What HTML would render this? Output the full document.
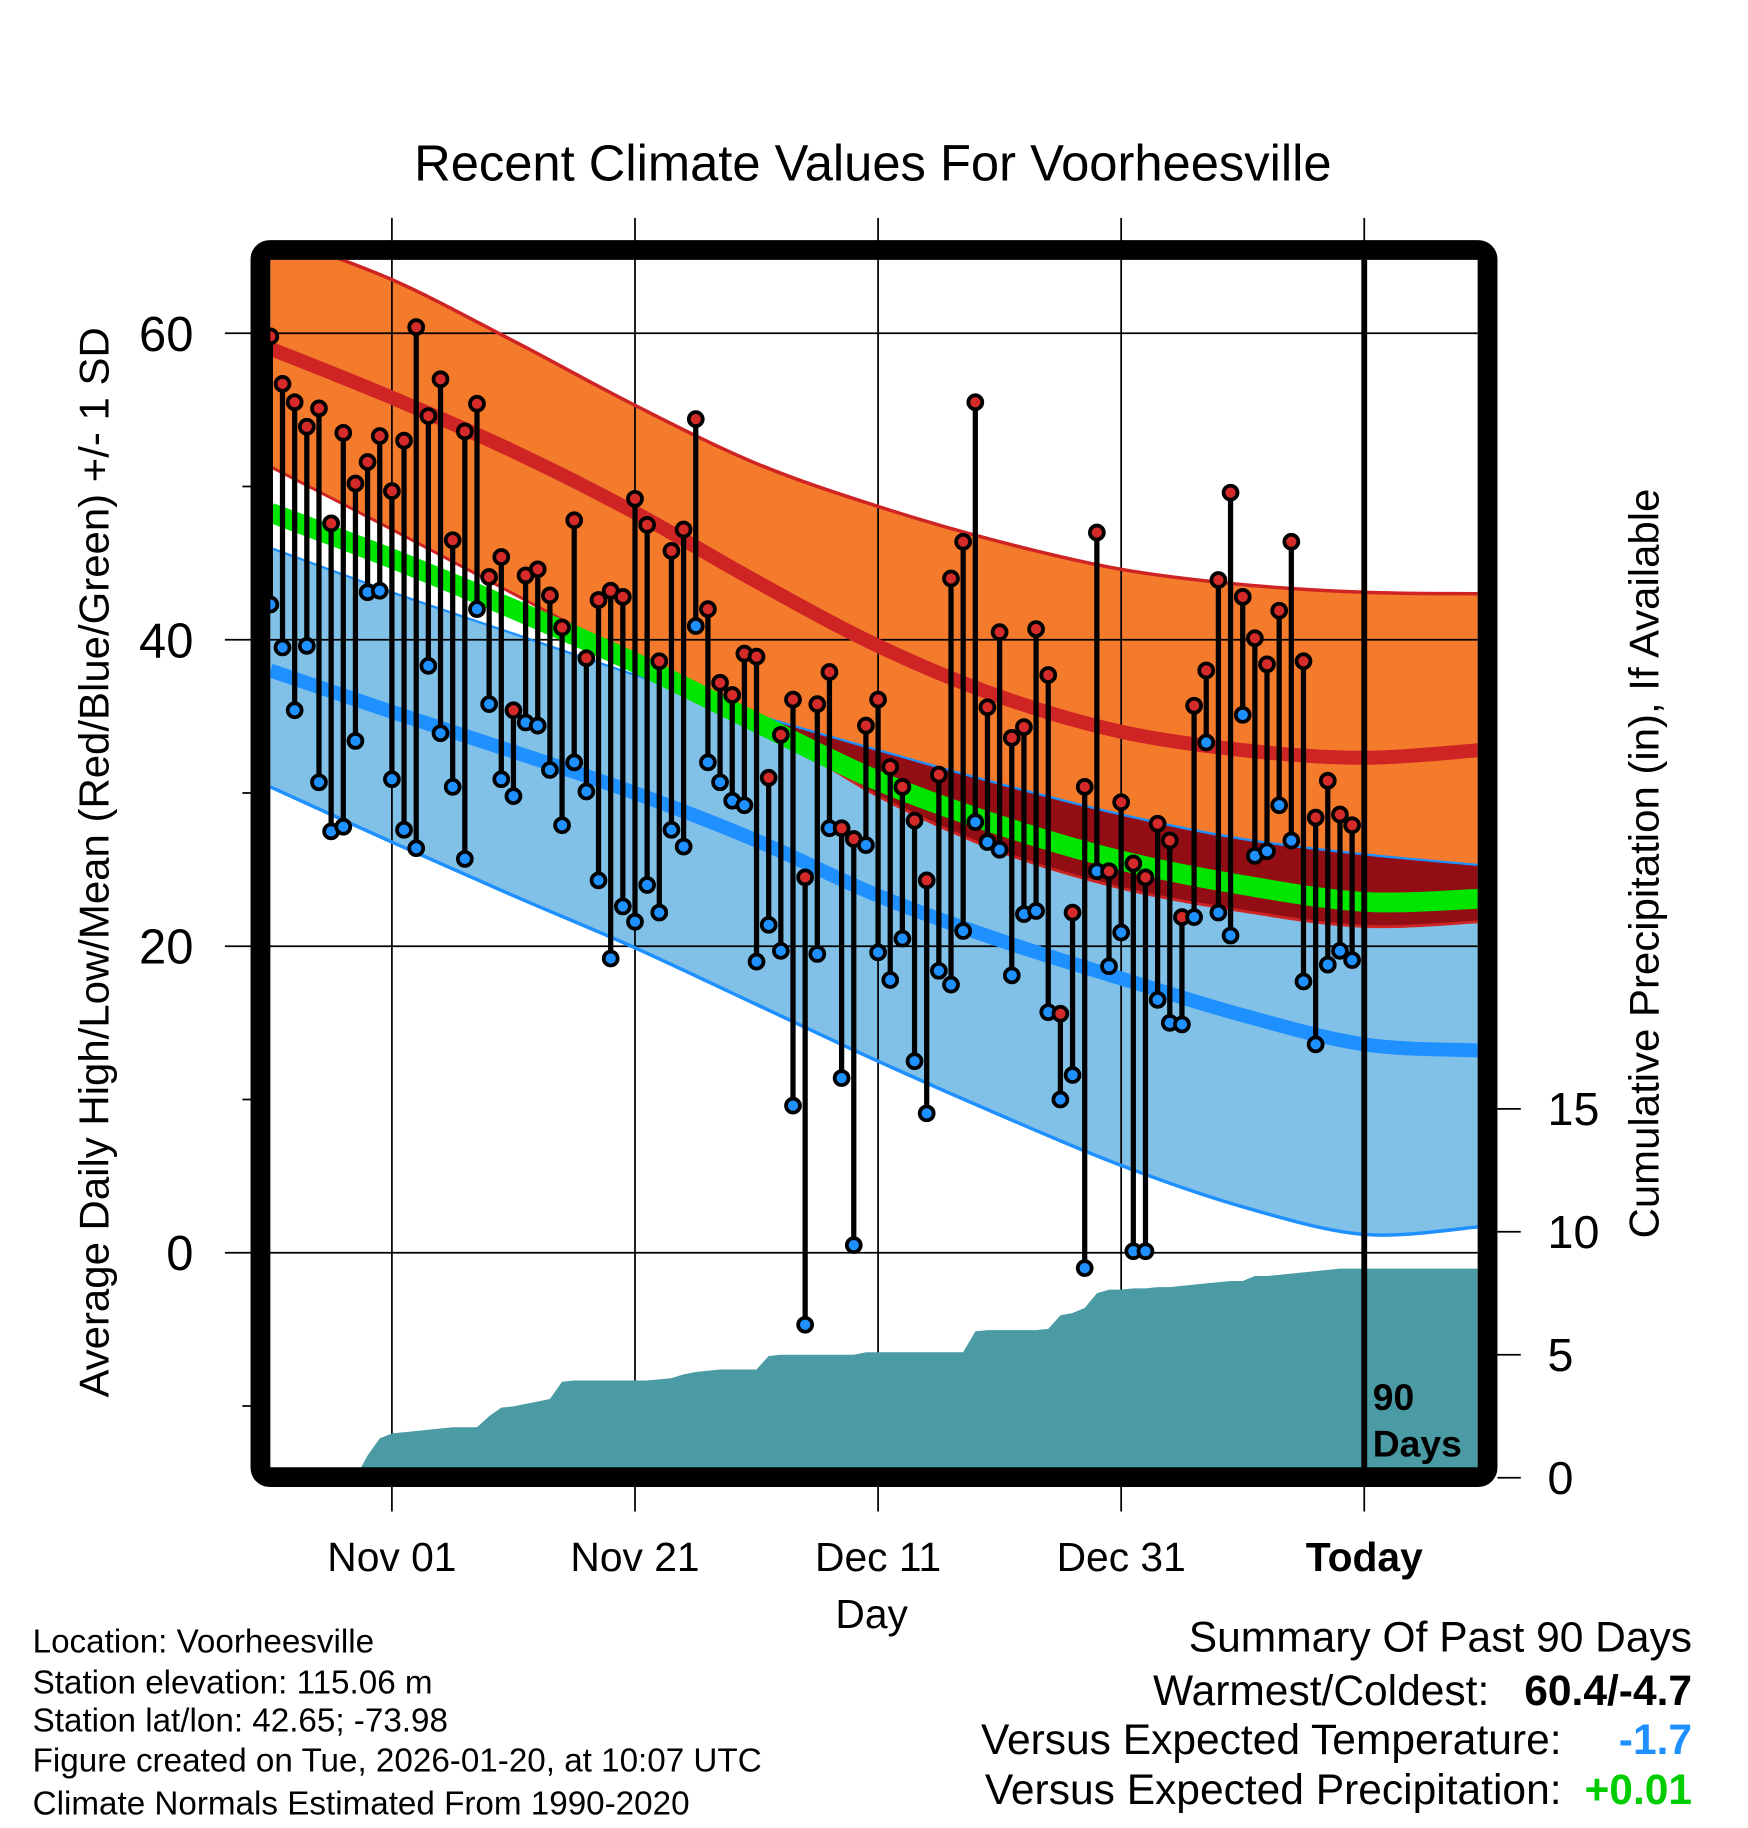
<!DOCTYPE html>
<html><head><meta charset="utf-8"><style>
html,body{margin:0;padding:0;background:#fff}
svg{display:block}
text{font-family:"Liberation Sans",Arial,sans-serif}
</style></head><body>
<svg id="chart" width="1748" height="1828" viewBox="0 0 1500 1568.6" preserveAspectRatio="none" xmlns="http://www.w3.org/2000/svg">
<defs>
<clipPath id="plotclip"><rect x="232" y="223" width="1036" height="1037"/></clipPath>
<clipPath id="blueclip"><path id="blueclipPath" d=""/></clipPath>
</defs>
<rect x="0" y="0" width="1500" height="1569" fill="#fff"/>
<text x="749" y="155" font-size="43.5" text-anchor="middle">Recent Climate Values For Voorheesville</text>
<g id="bands" clip-path="url(#plotclip)"></g>
<g id="grid"></g>
<g id="precip" clip-path="url(#plotclip)"></g>
<g id="lines" clip-path="url(#plotclip)"></g>
<g id="data"></g>
<rect x="223.5" y="214.5" width="1053" height="1053" rx="8" fill="none" stroke="#000" stroke-width="17"/>
<g id="axes"></g>
<text transform="translate(93,740) rotate(-90)" font-size="36" text-anchor="middle">Average Daily High/Low/Mean (Red/Blue/Green) +/- 1 SD</text>
<text transform="translate(1423,741) rotate(-90)" font-size="36" text-anchor="middle">Cumulative Precipitation (in), If Available</text>
<text x="748" y="1397" font-size="35" text-anchor="middle">Day</text>
<text x="1178" y="1210" font-size="32" font-weight="bold">90</text>
<text x="1178" y="1250" font-size="32" font-weight="bold">Days</text>
<g font-size="28.5">
<text x="28" y="1418">Location: Voorheesville</text>
<text x="28" y="1453">Station elevation: 115.06 m</text>
<text x="28" y="1486">Station lat/lon: 42.65; -73.98</text>
<text x="28" y="1520">Figure created on Tue, 2026-01-20, at 10:07 UTC</text>
<text x="28" y="1557">Climate Normals Estimated From 1990-2020</text>
</g>
<g font-size="36.5">
<text x="1452" y="1417" text-anchor="end">Summary Of Past 90 Days</text>
<text x="1278" y="1463" text-anchor="end">Warmest/Coldest:</text>
<text x="1452" y="1463" text-anchor="end" font-weight="bold">60.4/-4.7</text>
<text x="1340" y="1505" text-anchor="end">Versus Expected Temperature:</text>
<text x="1452" y="1505" text-anchor="end" font-weight="bold" fill="#1e90ff">-1.7</text>
<text x="1340" y="1548" text-anchor="end">Versus Expected Precipitation:</text>
<text x="1452" y="1548" text-anchor="end" font-weight="bold" fill="#00cc00">+0.01</text>
</g>
</svg>
<script>
const highs=[59.8,56.7,55.5,53.9,55.1,47.6,53.5,50.2,51.6,53.3,49.7,53.0,60.4,54.6,57.0,46.5,53.6,55.4,44.1,45.4,35.4,44.2,44.6,42.9,40.8,47.8,38.8,42.6,43.2,42.8,49.2,47.5,38.6,45.8,47.2,54.4,42.0,37.2,36.4,39.1,38.9,31.0,33.8,36.1,24.5,35.8,37.9,27.7,27.0,34.4,36.1,31.7,30.4,28.2,24.3,31.2,44.0,46.4,55.5,35.6,40.5,33.6,34.3,40.7,37.7,15.6,22.2,30.4,47.0,24.9,29.4,25.4,24.5,28.0,26.9,21.9,35.7,38.0,43.9,49.6,42.8,40.1,38.4,41.9,46.4,38.6,28.4,30.8,28.6,27.9];
const lows=[42.3,39.5,35.4,39.6,30.7,27.5,27.8,33.4,43.1,43.2,30.9,27.6,26.4,38.3,33.9,30.4,25.7,42.0,35.8,30.9,29.8,34.6,34.4,31.5,27.9,32.0,30.1,24.3,19.2,22.6,21.6,24.0,22.2,27.6,26.5,40.9,32.0,30.7,29.5,29.2,19.0,21.4,19.7,9.6,-4.7,19.5,27.7,11.4,0.5,26.6,19.6,17.8,20.5,12.5,9.1,18.4,17.5,21.0,28.1,26.8,26.3,18.1,22.1,22.3,15.7,10.0,11.6,-1.0,24.9,18.7,20.9,0.1,0.1,16.5,15.0,14.9,21.9,33.3,22.2,20.7,35.1,25.9,26.2,29.2,26.9,17.7,13.6,18.8,19.7,19.1];
const precip=[0,0,0,0,0,0,0,0,0.9,1.6,1.8,1.85,1.9,1.95,2.0,2.05,2.05,2.05,2.5,2.85,2.9,3.0,3.1,3.2,3.9,3.95,3.95,3.95,3.95,3.95,3.95,3.95,4.0,4.05,4.2,4.3,4.35,4.4,4.4,4.4,4.4,4.95,5.0,5.0,5.0,5.0,5.0,5.0,5.0,5.1,5.1,5.1,5.1,5.1,5.1,5.1,5.1,5.1,5.95,6.0,6.0,6.0,6.0,6.0,6.05,6.6,6.7,6.9,7.5,7.65,7.65,7.7,7.7,7.75,7.75,7.8,7.85,7.9,7.95,8.0,8.0,8.2,8.2,8.25,8.3,8.35,8.4,8.45,8.5,8.5];
const normDays=[0,10,20,30,40,50,60,70,80,90,99.5];
const highPlusSD=[66.5,63.5,59.5,55.3,51.5,48.7,46.4,44.6,43.6,43.1,43.0];
const normalHigh=[59.0,55.8,52.3,48.3,43.8,39.6,36.3,34.0,32.8,32.3,32.8];
const highMinusSD=[51.3,47.2,43.0,38.8,34.6,29.8,26.2,23.8,22.3,21.3,21.6];
const normalMean=[48.3,45.3,42.0,38.5,34.6,30.8,27.9,25.6,24.0,22.9,23.1];
const lowPlusSD=[46.0,43.1,40.4,37.7,35.1,32.8,30.6,28.6,27.0,26.0,25.3];
const normalLow=[38.0,35.3,32.7,30.0,26.9,23.3,20.4,17.9,15.5,13.6,13.2];
const lowMinusSD=[30.4,26.8,23.3,19.9,16.2,12.5,9.0,5.7,3.0,1.2,1.7];
const yTicks=[60,40,20,0];
const yMinor=[50,30,10,-10];
const pTicks=[0,5,10,15];
const xTickDays=[10,30,50,70,90];
const xTickLabels=["Nov 01","Nov 21","Dec 11","Dec 31","Today"];

const NS="http://www.w3.org/2000/svg";
const X=d=>232+10.43*d;
const Y=t=>1075-13.15*t;
const P=p=>1268-21.1*p;
function mk(tag,attrs,parent){const e=document.createElementNS(NS,tag);for(const k in attrs)e.setAttribute(k,attrs[k]);parent.appendChild(e);return e;}
function smooth(pts){let d="M"+pts[0][0]+","+pts[0][1];for(let i=0;i<pts.length-1;i++){const p0=pts[i-1]||pts[i],p1=pts[i],p2=pts[i+1],p3=pts[i+2]||p2;const c1=[p1[0]+(p2[0]-p0[0])/6,p1[1]+(p2[1]-p0[1])/6],c2=[p2[0]-(p3[0]-p1[0])/6,p2[1]-(p3[1]-p1[1])/6];d+=" C"+c1+" "+c2+" "+p2;}return d;}
function pts(arr){return normDays.map((d,i)=>[X(d),Y(arr[i])]);}
function bandPath(top,bot){const a=pts(top),b=pts(bot).reverse();let d=smooth(a);d+=" L"+b[0][0]+","+b[0][1]+smooth(b).replace(/^M[^C]*/," ");return d+" Z";}
const bands=document.getElementById('bands');
const orange=mk('path',{d:bandPath(highPlusSD,highMinusSD),fill:'#f47a2c'},bands);


const blueD=bandPath(lowPlusSD,lowMinusSD);
const blue=mk('path',{d:blueD,fill:'#82c1e7'},bands);


document.getElementById('blueclipPath').setAttribute('d',blueD);
const overlap=mk('path',{d:bandPath(highPlusSD,highMinusSD),fill:'#920e14','clip-path':'url(#blueclip)'},bands);



const grid=document.getElementById('grid');
yTicks.forEach(t=>{const l=mk('line',{x1:193,x2:1268,y1:Y(t),y2:Y(t),stroke:'#000','stroke-width':1.5},grid);

});
yMinor.forEach(t=>{const l=mk('line',{x1:208,x2:222,y1:Y(t),y2:Y(t),stroke:'#000','stroke-width':1.5},grid);

});
xTickDays.forEach((d,i)=>{const l=mk('line',{x1:X(d),x2:X(d),y1:187,y2:1297,stroke:'#000','stroke-width':1.5},grid);

});

const pg=document.getElementById('precip');
let pd="M"+X(0)+","+P(0);precip.forEach((v,i)=>{pd+=" L"+X(i)+","+P(v);});
pd+=" L1270,"+P(precip[precip.length-1])+" L1270,1268 L"+X(0)+",1268 Z";
const pa=mk('path',{d:pd,fill:'#4a9ba4'},pg);



const lines=document.getElementById('lines');
function ln(arr,col,w,name){const e=mk('path',{d:smooth(pts(arr)),fill:'none',stroke:col,'stroke-width':w},lines);

}
ln(highPlusSD,'#cf2424',3,'high-plus-sd-line');
ln(highMinusSD,'#cf2424',2.5,'high-minus-sd-line');
ln(normalHigh,'#cf2424',12,'normal-high-line');
ln(lowPlusSD,'#1e90ff',2,'low-plus-sd-line');
ln(lowMinusSD,'#1e90ff',3,'low-minus-sd-line');
ln(normalLow,'#1e90ff',12,'normal-low-line');
ln(normalMean,'#00e600',17,'normal-mean-line');
const tl=mk('line',{x1:X(90),x2:X(90),y1:223,y2:1268,stroke:'#000','stroke-width':5},lines);



const dg=document.getElementById('data');
highs.forEach((h,i)=>{const lo=lows[i];
const s=mk('line',{x1:X(i),x2:X(i),y1:Y(h),y2:Y(lo),stroke:'#000','stroke-width':4.5},dg);


const cl=mk('circle',{cx:X(i),cy:Y(lo),r:6,fill:'#1e90ff',stroke:'#000','stroke-width':3.2},dg);


const ch=mk('circle',{cx:X(i),cy:Y(h),r:6,fill:'#d42a2a',stroke:'#000','stroke-width':3.2},dg);

});

const ax=document.getElementById('axes');
yTicks.forEach(t=>{const e=mk('text',{x:166,y:Y(t)+15,'font-size':42,'text-anchor':'end'},ax);e.textContent=t;

});
pTicks.forEach(p=>{const l=mk('line',{x1:1285,x2:1305,y1:P(p),y2:P(p),stroke:'#000','stroke-width':1.5},ax);


const e=mk('text',{x:1328,y:P(p)+14,'font-size':40},ax);e.textContent=p;

});
xTickDays.forEach((d,i)=>{const e=mk('text',{x:X(d),y:1348,'font-size':35,'text-anchor':'middle','font-weight':i==4?'bold':'normal'},ax);e.textContent=xTickLabels[i];

});
</script>
</body></html>
